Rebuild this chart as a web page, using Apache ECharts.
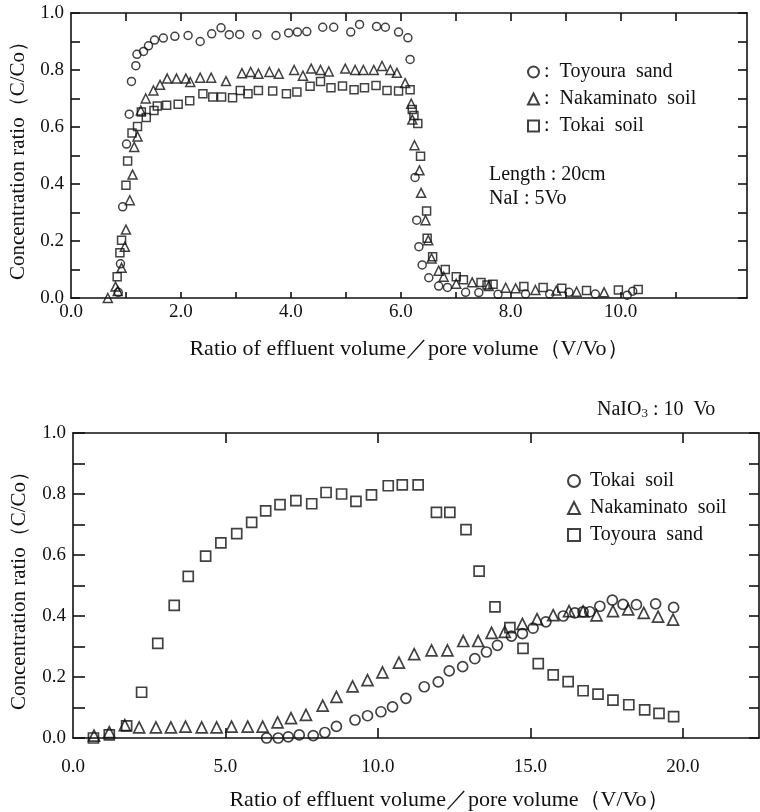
<!DOCTYPE html>
<html>
<head>
<meta charset="utf-8">
<script src="https://cdn.jsdelivr.net/npm/echarts@6/dist/echarts.min.js"></script>
<style>
  html, body { margin: 0; padding: 0; background: #fff; }
  #chart { width: 760px; height: 812px; }
</style>
</head>
<body>
<div id="chart"></div>
<script>
// upper panel: NaI, 5 Vo, column 20 cm  [V/Vo, C/Co]
const naiToyoura = [[0.86,0.02],[0.90,0.12],[0.94,0.32],[1.01,0.54],[1.06,0.645],[1.10,0.76],[1.18,0.815],
  [1.20,0.855],[1.32,0.865],[1.41,0.885],[1.52,0.905],[1.68,0.912],[1.89,0.918],[2.13,0.921],[2.35,0.90],
  [2.56,0.927],[2.73,0.948],[2.88,0.924],[3.07,0.925],[3.38,0.924],[3.73,0.921],[3.96,0.93],[4.12,0.933],
  [4.29,0.935],[4.58,0.95],[4.78,0.95],[5.09,0.933],[5.25,0.96],[5.56,0.953],[5.72,0.95],[5.96,0.933],
  [6.13,0.913],[6.17,0.837],[6.26,0.423],[6.29,0.273],[6.33,0.18],[6.39,0.116],[6.51,0.071],[6.69,0.042],
  [6.85,0.037],[7.18,0.02],[7.42,0.019],[7.77,0.013],[8.27,0.014],[8.71,0.014],[9.06,0.02],[9.54,0.014],
  [10.12,0.01],[10.22,0.024]];
const naiNakaminato = [[0.67,0.0],[0.81,0.04],[0.85,0.025],[0.92,0.106],[0.98,0.18],[1.00,0.24],[1.07,0.343],
  [1.12,0.433],[1.15,0.53],[1.21,0.567],[1.27,0.658],[1.36,0.70],[1.50,0.728],[1.62,0.748],[1.75,0.77],
  [1.92,0.77],[2.09,0.77],[2.17,0.758],[2.35,0.773],[2.55,0.773],[2.82,0.761],[3.11,0.789],[3.27,0.793],
  [3.41,0.787],[3.61,0.793],[3.78,0.787],[4.06,0.80],[4.22,0.78],[4.37,0.805],[4.54,0.80],[4.69,0.795],
  [4.99,0.805],[5.17,0.80],[5.32,0.80],[5.51,0.80],[5.66,0.814],[5.81,0.80],[5.93,0.79],[6.08,0.754],
  [6.19,0.682],[6.21,0.626],[6.25,0.536],[6.34,0.448],[6.37,0.369],[6.45,0.273],[6.50,0.203],[6.56,0.139],
  [6.69,0.096],[6.78,0.075],[7.01,0.05],[7.30,0.055],[7.60,0.042],[7.91,0.036],[8.09,0.034],[8.45,0.028],
  [8.83,0.026],[9.20,0.022],[9.70,0.02]];
const naiTokai = [[0.84,0.075],[0.89,0.159],[0.92,0.203],[1.00,0.396],[1.03,0.481],[1.11,0.579],[1.21,0.602],
  [1.28,0.653],[1.37,0.633],[1.51,0.658],[1.57,0.674],[1.74,0.676],[1.95,0.68],[2.16,0.692],[2.40,0.717],
  [2.58,0.705],[2.74,0.705],[2.94,0.703],[3.08,0.728],[3.22,0.717],[3.41,0.728],[3.67,0.726],[3.92,0.717],
  [4.11,0.723],[4.35,0.743],[4.54,0.76],[4.73,0.738],[4.94,0.744],[5.15,0.731],[5.34,0.738],[5.55,0.746],
  [5.75,0.728],[5.96,0.726],[6.17,0.731],[6.21,0.661],[6.24,0.64],[6.31,0.612],[6.36,0.497],[6.47,0.305],
  [6.48,0.21],[6.58,0.145],[6.81,0.10],[7.01,0.075],[7.14,0.064],[7.46,0.054],[7.57,0.046],[7.68,0.048],
  [8.24,0.04],[8.59,0.037],[8.93,0.034],[9.38,0.026],[9.96,0.028],[10.32,0.03]];

// lower panel: NaIO3, 10 Vo
const iodateTokai = [[6.35,0.0],[6.73,0.0],[7.06,0.004],[7.42,0.01],[7.88,0.008],[8.26,0.018],[8.64,0.038],
  [9.25,0.059],[9.66,0.073],[10.10,0.086],[10.48,0.102],[10.92,0.13],[11.52,0.168],[11.98,0.184],[12.34,0.22],
  [12.78,0.234],[13.18,0.26],[13.56,0.282],[13.92,0.304],[14.38,0.334],[14.74,0.342],[15.09,0.36],[15.51,0.381],
  [16.08,0.40],[16.46,0.41],[16.73,0.414],[16.95,0.414],[17.28,0.432],[17.69,0.452],[18.04,0.438],[18.48,0.437],
  [19.11,0.44],[19.70,0.428]];
const iodateNakaminato = [[0.69,0.008],[1.19,0.019],[1.70,0.042],[2.17,0.035],[2.72,0.035],[3.21,0.035],
  [3.69,0.037],[4.22,0.035],[4.71,0.035],[5.20,0.037],[5.73,0.037],[6.22,0.037],[6.71,0.051],[7.15,0.065],
  [7.64,0.076],[8.19,0.106],[8.64,0.135],[9.17,0.169],[9.66,0.19],[10.15,0.215],[10.69,0.247],[11.19,0.275],
  [11.76,0.287],[12.28,0.287],[12.80,0.318],[13.29,0.318],[13.73,0.345],[14.16,0.348],[14.74,0.374],[15.22,0.39],
  [15.75,0.403],[16.27,0.416],[16.73,0.415],[17.17,0.402],[17.71,0.416],[18.21,0.422],[18.72,0.41],[19.19,0.398],
  [19.68,0.388]];
const iodateToyoura = [[0.67,0.0],[1.19,0.01],[1.76,0.04],[2.25,0.15],[2.78,0.31],[3.32,0.435],[3.78,0.53],
  [4.35,0.596],[4.85,0.64],[5.37,0.67],[5.86,0.707],[6.32,0.745],[6.79,0.765],[7.31,0.778],[7.83,0.768],
  [8.30,0.805],[8.81,0.80],[9.28,0.776],[9.79,0.797],[10.34,0.827],[10.80,0.83],[11.32,0.83],[11.92,0.74],
  [12.36,0.74],[12.89,0.683],[13.32,0.547],[13.84,0.43],[14.33,0.362],[14.76,0.294],[15.26,0.244],[15.75,0.207],
  [16.24,0.185],[16.73,0.155],[17.22,0.144],[17.71,0.124],[18.23,0.109],[18.75,0.092],[19.22,0.081],[19.70,0.07]];

const topTicksX = [1, 2, 3, 4, 5, 6, 7, 8, 9, 10, 11];
const topLabelsX = [0, 2, 4, 6, 8, 10];
const lowTicksX = [5, 10, 15, 20];
const lowLabelsX = [0, 5, 10, 15, 20];

const ink = '#111';
const serif = '"Liberation Serif", "DejaVu Serif", serif';
const xTitle = 'Ratio of effluent volume／pore volume（V/Vo）';
const yTitle = 'Concentration ratio（C/Co）';

function xAxisFor(grid, pos, max, interval, tickLen, labels, ticks, margin, extra) {
  return Object.assign({
    type: 'value', gridIndex: grid, position: pos, min: 0, max: max, interval: interval,
    axisLine: {onZero: false, lineStyle: {color: ink, width: 1.6}},
    axisTick: {inside: true, length: tickLen, lineStyle: {color: ink, width: 1.6},
      customValues: ticks},
    axisLabel: pos === 'bottom'
      ? {customValues: labels, formatter: v => v.toFixed(1), color: ink,
         fontFamily: serif, fontSize: 19, margin: margin}
      : {show: false},
    splitLine: {show: false}
  }, extra || {});
}

function yAxisFor(grid, pos, tickLen, extra) {
  return Object.assign({
    type: 'value', gridIndex: grid, position: pos, min: 0, max: 1, interval: 0.1,
    axisLine: {onZero: false, lineStyle: {color: ink, width: 1.6}},
    axisTick: {inside: true, length: tickLen, lineStyle: {color: ink, width: 1.6}},
    axisLabel: pos === 'left'
      ? {formatter: v => (Math.round(v * 10) % 2 ? '' : v.toFixed(1)), color: ink,
         fontFamily: serif, fontSize: 19, margin: 7}
      : {show: false},
    splitLine: {show: false}
  }, extra || {});
}

function dots(name, symbol, size, data, xi, yi, bw) {
  return {
    name: name, type: 'scatter', xAxisIndex: xi, yAxisIndex: yi,
    symbol: symbol, symbolSize: size, data: data, z: 3,
    itemStyle: {color: 'rgba(0,0,0,0)', borderColor: ink, borderWidth: bw}
  };
}

const legendText = {
  'NaI Toyoura sand': ':  Toyoura  sand',
  'NaI Nakaminato soil': ':  Nakaminato  soil',
  'NaI Tokai soil': ':  Tokai  soil',
  'NaIO3 Tokai soil': ' Tokai  soil',
  'NaIO3 Nakaminato soil': ' Nakaminato  soil',
  'NaIO3 Toyoura sand': ' Toyoura  sand'
};

const chart = echarts.init(document.getElementById('chart'));
chart.setOption({
  animation: false,
  backgroundColor: '#fff',
  textStyle: {fontFamily: serif, color: ink},
  grid: [
    {left: 71, top: 13, width: 676, height: 285},
    {left: 73, top: 433, width: 686, height: 306}
  ],
  xAxis: [
    xAxisFor(0, 'bottom', 12.3, 1, 6, topLabelsX, topTicksX, 5, {
      name: xTitle, nameLocation: 'middle', nameGap: 40,
      nameTextStyle: {fontFamily: serif, fontSize: 22, color: ink}
    }),
    xAxisFor(0, 'top', 12.3, 1, 8, topLabelsX, topTicksX, 5),
    xAxisFor(1, 'bottom', 22.5, 5, 10, lowLabelsX, lowTicksX, 20, {
      name: xTitle, nameLocation: 'middle', nameGap: 51,
      nameTextStyle: {fontFamily: serif, fontSize: 22, color: ink, padding: [0, 0, 0, 66]}
    }),
    xAxisFor(1, 'top', 22.5, 5, 10, lowLabelsX, lowTicksX, 5)
  ],
  yAxis: [
    yAxisFor(0, 'left', 9, {
      name: yTitle, nameLocation: 'middle', nameGap: 41,
      nameTextStyle: {fontFamily: serif, fontSize: 21, color: ink}
    }),
    yAxisFor(0, 'right', 9),
    yAxisFor(1, 'left', 12, {
      name: yTitle, nameLocation: 'middle', nameGap: 43,
      nameTextStyle: {fontFamily: serif, fontSize: 21, color: ink}
    }),
    yAxisFor(1, 'right', 10)
  ],
  legend: [
    {
      orient: 'vertical', left: 522, top: 57, itemWidth: 11, itemHeight: 11, itemGap: 7,
      data: ['NaI Toyoura sand', 'NaI Nakaminato soil', 'NaI Tokai soil'],
      formatter: n => legendText[n],
      textStyle: {fontFamily: serif, fontSize: 20, color: ink},
      selectedMode: false
    },
    {
      orient: 'vertical', left: 562, top: 466, itemWidth: 12, itemHeight: 12, itemGap: 7,
      data: ['NaIO3 Tokai soil', 'NaIO3 Nakaminato soil', 'NaIO3 Toyoura sand'],
      formatter: n => legendText[n],
      textStyle: {fontFamily: serif, fontSize: 20, color: ink},
      selectedMode: false
    }
  ],
  graphic: [
    {type: 'text', left: 489, top: 165, style: {text: 'Length : 20cm', font: '20px ' + serif, fill: ink}},
    {type: 'text', left: 489, top: 189, style: {text: 'NaI : 5Vo', font: '20px ' + serif, fill: ink}},
    {type: 'text', left: 597, top: 400, style: {
      text: '{a|NaIO}{s|3}{a| : 10  Vo}',
      rich: {
        a: {fontFamily: serif, fontSize: 20, fill: ink, color: ink},
        s: {fontFamily: serif, fontSize: 13, fill: ink, color: ink, verticalAlign: 'bottom', padding: [8, 0, 0, 0]}
      }
    }}
  ],
  series: [
    dots('NaI Toyoura sand', 'circle', 8, naiToyoura, 0, 0, 1.5),
    dots('NaI Nakaminato soil', 'triangle', 9, naiNakaminato, 0, 0, 1.5),
    dots('NaI Tokai soil', 'rect', 8, naiTokai, 0, 0, 1.5),
    dots('NaIO3 Tokai soil', 'circle', 10, iodateTokai, 2, 2, 1.7),
    dots('NaIO3 Nakaminato soil', 'triangle', 11, iodateNakaminato, 2, 2, 1.7),
    dots('NaIO3 Toyoura sand', 'rect', 10, iodateToyoura, 2, 2, 1.7)
  ]
});
</script>
</body>
</html>
